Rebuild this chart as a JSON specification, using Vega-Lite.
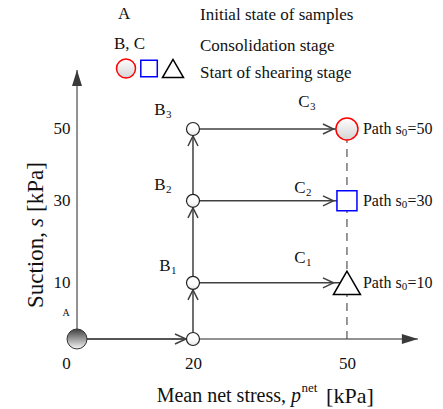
{
  "$schema": "https://vega.github.io/schema/vega-lite/v6.json",
  "width": 443,
  "height": 409,
  "autosize": {"type": "none"},
  "padding": 0,
  "background": "white",
  "config": {
    "view": {"stroke": null},
    "text": {"font": "Liberation Serif", "color": "#111111", "baseline": "middle"}
  },
  "datasets": {
    "states": [
      {"id": "A", "p": 0, "s": 0},
      {"id": "B0", "p": 20, "s": 0},
      {"id": "B1", "p": 20, "s": 10},
      {"id": "B2", "p": 20, "s": 30},
      {"id": "B3", "p": 20, "s": 50},
      {"id": "C1", "p": 50, "s": 10},
      {"id": "C2", "p": 50, "s": 30},
      {"id": "C3", "p": 50, "s": 50}
    ],
    "paths": [
      {"p": 0, "s": 0, "p2": 20, "s2": 0},
      {"p": 20, "s": 0, "p2": 20, "s2": 50},
      {"p": 20, "s": 10, "p2": 50, "s2": 10},
      {"p": 20, "s": 30, "p2": 50, "s2": 30},
      {"p": 20, "s": 50, "p2": 50, "s2": 50}
    ],
    "axisLines": [
      {"axis": "p", "p": 0, "s": 0, "p2": 64.4, "s2": 0},
      {"axis": "s", "p": 0, "s": 0, "p2": 0, "s2": 67.6}
    ],
    "shearLine": [{"p": 50, "s": 0, "p2": 50, "s2": 50}],
    "tags": [
      {"t": "B", "sub": "1", "p": 14.83, "s": 13.78},
      {"t": "B", "sub": "2", "p": 13.91, "s": 34.26},
      {"t": "B", "sub": "3", "p": 13.91, "s": 55.57},
      {"t": "C", "sub": "1", "p": 40.64, "s": 15.64},
      {"t": "C", "sub": "2", "p": 40.64, "s": 33.31},
      {"t": "C", "sub": "3", "p": 41.43, "s": 58.09}
    ],
    "runs": [
      {"p": 50, "s": 10, "tail": "=10"},
      {"p": 50, "s": 30, "tail": "=30"},
      {"p": 50, "s": 50, "tail": "=50"}
    ],
    "origin": [{"t": "A", "p": -1.55, "s": 3.82}],
    "key": [
      {"t": "A", "p": 6.475, "s": 85.32},
      {"t": "Initial state of samples", "p": 21.32, "s": 84.84},
      {"t": "B, C", "p": 5.793, "s": 75.83},
      {"t": "Consolidation stage", "p": 21.32, "s": 75.2},
      {"t": "Start of shearing stage", "p": 21.32, "s": 66.62}
    ],
    "keySymbols": [
      {"k": "circle", "p": 7.857, "s": 68.09},
      {"k": "square", "p": 11.93, "s": 68.09},
      {"k": "triangle", "p": 16.29, "s": 68.09}
    ],
    "xTitle": [{"p": 38.88, "s": -10.09}],
    "yTitle": [{"p": -6.475, "s": 23.23}]
  },
  "encoding": {
    "x": {
      "field": "p",
      "type": "quantitative",
      "scale": {"type": "pow", "exponent": 0.922, "domain": [-12.83, 69.56], "nice": false, "zero": false},
      "axis": {
        "orient": "bottom",
        "offset": -70,
        "values": [0, 20, 50],
        "domain": false,
        "ticks": false,
        "tickSize": 0,
        "grid": false,
        "title": null,
        "labelFont": "Liberation Serif",
        "labelFontSize": 17,
        "labelColor": "#111111",
        "labelPadding": 16,
        "labelFlush": false,
        "labelOverlap": false,
        "labelOffset": {"condition": {"test": "datum.value === 0", "value": -11}, "value": 0}
      }
    },
    "y": {
      "field": "s",
      "type": "quantitative",
      "scale": {"type": "pow", "exponent": 0.82, "domain": [-13.1, 89.66], "nice": false, "zero": false},
      "axis": {
        "orient": "left",
        "offset": -77,
        "values": [10, 30, 50],
        "domain": false,
        "ticks": false,
        "tickSize": 0,
        "grid": false,
        "title": null,
        "labelFont": "Liberation Serif",
        "labelFontSize": 17,
        "labelColor": "#111111",
        "labelPadding": 7,
        "labelBaseline": "middle",
        "labelFlush": false,
        "labelOverlap": false
      }
    }
  },
  "layer": [
    {
      "data": {"name": "axisLines"},
      "mark": {"type": "rule", "color": "#6e6e6e", "strokeWidth": 1.5},
      "encoding": {"x2": {"field": "p2"}, "y2": {"field": "s2"}}
    },
    {
      "data": {"name": "axisLines"},
      "transform": [{"filter": "datum.axis === 's'"}, {"calculate": "datum.s2", "as": "s"}],
      "mark": {"type": "point", "shape": "M0,0L-5,16L5,16Z", "size": 4, "filled": true, "fill": "#3a3a3a", "opacity": 1}
    },
    {
      "data": {"name": "axisLines"},
      "transform": [{"filter": "datum.axis === 'p'"}, {"calculate": "datum.p2", "as": "p"}],
      "mark": {"type": "point", "shape": "M0,0L-16,-5L-16,5Z", "size": 4, "filled": true, "fill": "#3a3a3a", "opacity": 1}
    },
    {
      "data": {"name": "shearLine"},
      "mark": {"type": "rule", "color": "#555555", "strokeWidth": 1.2, "strokeDash": [8, 6]},
      "encoding": {"x2": {"field": "p2"}, "y2": {"field": "s2"}}
    },
    {
      "data": {"name": "paths"},
      "mark": {"type": "rule", "color": "#404040", "strokeWidth": 1.5},
      "encoding": {"x2": {"field": "p2"}, "y2": {"field": "s2"}}
    },
    {
      "data": {"name": "states"},
      "transform": [{"filter": "datum.id === 'B0'"}],
      "mark": {"type": "point", "shape": "M-18,-5L-7,0L-18,5", "size": 4, "filled": false, "stroke": "#404040", "strokeWidth": 1.5, "opacity": 1}
    },
    {
      "data": {"name": "states"},
      "transform": [{"filter": "datum.id === 'B1' || datum.id === 'B2' || datum.id === 'B3'"}],
      "mark": {"type": "point", "shape": "M-5,17L0,7L5,17", "size": 4, "filled": false, "stroke": "#404040", "strokeWidth": 1.5, "opacity": 1}
    },
    {
      "data": {"name": "states"},
      "transform": [{"filter": "datum.p === 50"}],
      "mark": {"type": "point", "shape": "M-24,-5L-13.5,0L-24,5", "size": 4, "filled": false, "stroke": "#404040", "strokeWidth": 1.5, "opacity": 1}
    },
    {
      "data": {"name": "states"},
      "transform": [{"filter": "datum.id === 'A'"}],
      "mark": {
        "type": "point", "shape": "circle", "size": 400, "filled": true, "opacity": 1,
        "fill": {"gradient": "linear", "x1": 0, "y1": 0, "x2": 0, "y2": 1,
          "stops": [{"offset": 0, "color": "#3f3f3f"}, {"offset": 1, "color": "#f7f7f7"}]},
        "stroke": "#333333", "strokeWidth": 1
      }
    },
    {
      "data": {"name": "states"},
      "transform": [{"filter": "datum.p === 20"}],
      "mark": {
        "type": "point", "shape": "circle", "size": 169, "filled": true, "opacity": 1,
        "fill": {"gradient": "linear", "x1": 0, "y1": 0, "x2": 0, "y2": 1,
          "stops": [{"offset": 0, "color": "#ffffff"}, {"offset": 0.6, "color": "#fbfbfb"}, {"offset": 1, "color": "#e6e6e6"}]},
        "stroke": "#222222", "strokeWidth": 1.2
      }
    },
    {
      "data": {"name": "states"},
      "transform": [{"filter": "datum.id === 'C3'"}],
      "mark": {
        "type": "point", "shape": "circle", "size": 484, "filled": true, "opacity": 1,
        "fill": {"gradient": "linear", "x1": 0, "y1": 0, "x2": 0, "y2": 1,
          "stops": [{"offset": 0, "color": "#ffffff"}, {"offset": 1, "color": "#d4d4d4"}]},
        "stroke": "#ff0000", "strokeWidth": 1.5
      }
    },
    {
      "data": {"name": "states"},
      "transform": [{"filter": "datum.id === 'C2'"}],
      "mark": {"type": "point", "shape": "square", "size": 400, "filled": true, "opacity": 1, "fill": "white", "stroke": "#0000ff", "strokeWidth": 1.5}
    },
    {
      "data": {"name": "states"},
      "transform": [{"filter": "datum.id === 'C1'"}],
      "mark": {"type": "point", "shape": "triangle-up", "size": 729, "filled": true, "opacity": 1, "fill": "white", "stroke": "#000000", "strokeWidth": 1.5}
    },
    {
      "data": {"name": "keySymbols"},
      "transform": [{"filter": "datum.k === 'circle'"}],
      "mark": {
        "type": "point", "shape": "circle", "size": 361, "filled": true, "opacity": 1,
        "fill": {"gradient": "linear", "x1": 0, "y1": 0, "x2": 0, "y2": 1,
          "stops": [{"offset": 0, "color": "#ffffff"}, {"offset": 1, "color": "#d4d4d4"}]},
        "stroke": "#ff0000", "strokeWidth": 1.5
      }
    },
    {
      "data": {"name": "keySymbols"},
      "transform": [{"filter": "datum.k === 'square'"}],
      "mark": {"type": "point", "shape": "square", "size": 272, "filled": true, "opacity": 1, "fill": "white", "stroke": "#0000ff", "strokeWidth": 1.5}
    },
    {
      "data": {"name": "keySymbols"},
      "transform": [{"filter": "datum.k === 'triangle'"}],
      "mark": {"type": "point", "shape": "triangle-up", "size": 441, "filled": true, "opacity": 1, "fill": "white", "stroke": "#000000", "strokeWidth": 1.5}
    },
    {
      "data": {"name": "tags"},
      "mark": {"type": "text", "fontSize": 17, "align": "center"},
      "encoding": {"text": {"field": "t"}}
    },
    {
      "data": {"name": "tags"},
      "mark": {"type": "text", "fontSize": 11, "align": "left", "dx": 6, "dy": 5},
      "encoding": {"text": {"field": "sub"}}
    },
    {
      "data": {"name": "runs"},
      "mark": {"type": "text", "fontSize": 16, "align": "left", "dx": 16},
      "encoding": {"text": {"value": "Path s"}}
    },
    {
      "data": {"name": "runs"},
      "mark": {"type": "text", "fontSize": 11, "align": "left", "dx": 54.7, "dy": 4},
      "encoding": {"text": {"value": "0"}}
    },
    {
      "data": {"name": "runs"},
      "mark": {"type": "text", "fontSize": 16, "align": "left", "dx": 60.5},
      "encoding": {"text": {"field": "tail"}}
    },
    {
      "data": {"name": "origin"},
      "mark": {"type": "text", "fontSize": 10, "align": "center"},
      "encoding": {"text": {"field": "t"}}
    },
    {
      "data": {"name": "key"},
      "mark": {"type": "text", "fontSize": 17, "align": "left"},
      "encoding": {"text": {"field": "t"}}
    },
    {
      "data": {"name": "xTitle"},
      "mark": {"type": "text", "fontSize": 20, "align": "right", "dx": -5},
      "encoding": {"text": {"value": "Mean net stress,"}}
    },
    {
      "data": {"name": "xTitle"},
      "mark": {"type": "text", "fontSize": 20, "align": "left", "fontStyle": "italic"},
      "encoding": {"text": {"value": "p"}}
    },
    {
      "data": {"name": "xTitle"},
      "mark": {"type": "text", "fontSize": 13, "align": "left", "dx": 10.5, "dy": -8},
      "encoding": {"text": {"value": "net"}}
    },
    {
      "data": {"name": "xTitle"},
      "mark": {"type": "text", "fontSize": 22, "align": "left", "dx": 35},
      "encoding": {"text": {"value": "[kPa]"}}
    },
    {
      "data": {"name": "yTitle"},
      "mark": {"type": "text", "fontSize": 23, "align": "right", "angle": 270, "dx": -5},
      "encoding": {"text": {"value": "Suction,"}}
    },
    {
      "data": {"name": "yTitle"},
      "mark": {"type": "text", "fontSize": 23, "align": "left", "angle": 270, "fontStyle": "italic"},
      "encoding": {"text": {"value": "s"}}
    },
    {
      "data": {"name": "yTitle"},
      "mark": {"type": "text", "fontSize": 23, "align": "left", "angle": 270, "dx": 15},
      "encoding": {"text": {"value": "[kPa]"}}
    }
  ]
}
